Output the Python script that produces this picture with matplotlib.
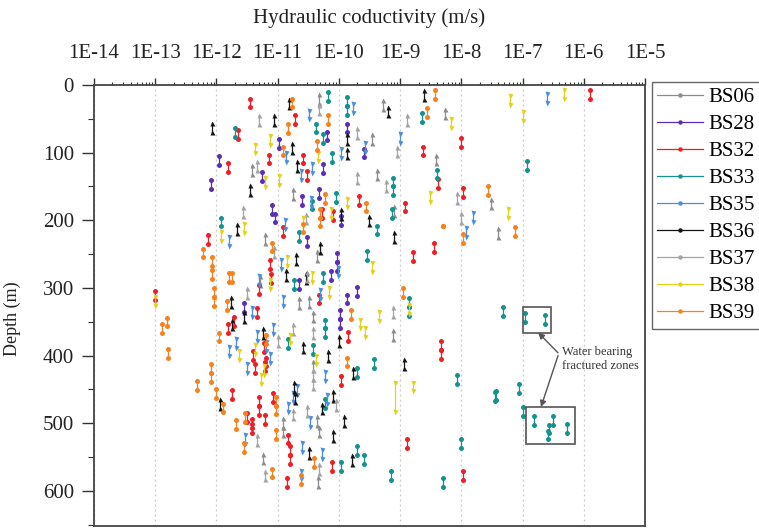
import matplotlib
matplotlib.use('Agg')
import matplotlib.pyplot as plt
from matplotlib.patches import Rectangle
from matplotlib.lines import Line2D
from matplotlib.ticker import MultipleLocator, NullFormatter, LogLocator

plt.rcParams['font.family'] = ['Liberation Serif', 'DejaVu Serif']

# packer test sections: (top depth in m, hydraulic conductivity in m/s[, base depth in m])
# sections without a base use the standard section length below
section = 13

bs06 = [(13, 4.7e-11), (119, 3.8e-12), (154, 1.8e-11), (220, 6.3e-12), (22, 5.3e-10),
        (35, 5.5e-9), (73, 3.5e-10), (103, 3.9e-9), (125, 4.2e-10), (179, 7.9e-10),
        (168, 3.0e-8), (211, 3.9e-8), (245, 4.4e-11), (315, 2.2e-11), (313, 3.3e-11),
        (408, 3.8e-11), (490, 4.4e-11), (493, 1.2e-11), (362, 7.6e-10), (580, 4.6e-11),
        (545, 5.8e-12), (505, 1.2e-11), (505, 4.7e-11), (335, 3.8e-11), (283, 5.2e-12)]

bs28 = [(80, 1.05e-11), (105, 1.1e-12), (141, 8.0e-13), (129, 5.6e-12), (154, 4.7e-11),
        (164, 2.5e-11), (177, 8.2e-12), (190, 9.2e-12), (225, 3.0e-11), (57, 1.35e-10),
        (94, 2.6e-10), (69, 6.3e-11), (117, 5.5e-11), (194, 1.1e-10), (249, 9.4e-11),
        (262, 9.4e-11), (322, 2.8e-12), (288, 2.2e-11), (310, 1.35e-10), (299, 2.0e-10),
        (333, 1.05e-10), (346, 1.05e-10), (275, 7.5e-11)]

bs32 = [(20, 3.5e-12), (67, 2.25e-12), (44, 1.9e-11), (115, 1.55e-12), (103, 7.2e-12),
        (103, 2.6e-11), (210, 1.2e-11), (222, 7.3e-13), (259, 7.4e-12), (183, 5.3e-11),
        (91, 2.4e-9), (79, 1.0e-8), (139, 4.2e-9), (164, 2.1e-10), (174, 1.2e-9),
        (152, 1.05e-8), (234, 3.6e-9), (247, 1.6e-9), (127, 3.0e-11), (186, 8.0e-11),
        (8, 1.27e-6), (305, 1.0e-13), (343, 1.9e-12), (354, 1.55e-12), (296, 5.0e-12),
        (330, 4.6e-12), (451, 1.8e-12), (403, 6.5e-12), (413, 4.3e-12), (461, 5.0e-12),
        (455, 8.4e-12), (485, 3.2e-12), (494, 3.8e-12), (310, 4.7e-11), (365, 1.4e-10),
        (379, 4.7e-9), (392, 4.7e-9), (430, 1.1e-10), (523, 1.3e-9), (571, 1.07e-8),
        (558, 7.7e-11), (581, 1.4e-11), (534, 1.6e-11), (547, 1.6e-11), (517, 1.5e-11),
        (501, 3.8e-12), (488, 6.2e-12), (475, 5.0e-12), (280, 7.7e-12), (382, 6.0e-12),
        (393, 3.9e-12), (410, 6.2e-12)]

bs33 = [(10, 6.6e-11), (64, 2.0e-12), (101, 7.7e-11), (196, 1.2e-12), (218, 2.2e-11),
        (57, 4.3e-11), (18, 1.35e-10), (31, 1.35e-10), (42, 2.3e-9), (125, 4.0e-9),
        (137, 7.7e-10), (150, 7.7e-10), (208, 4.2e-10), (245, 2.9e-10), (73, 5.5e-11),
        (160, 9.0e-11), (171, 3.6e-11), (113, 1.2e-7), (183, 7.5e-10), (376, 1.5e-11),
        (347, 6.0e-11), (360, 6.0e-11), (384, 3.8e-11), (464, 5.9e-11), (288, 1.85e-11),
        (315, 1.4e-9), (328, 1.4e-9), (418, 2.0e-10), (405, 3.8e-10), (429, 8.5e-9),
        (453, 3.7e-8), (523, 1.0e-8), (581, 5.0e-9), (571, 7.2e-10), (534, 2.0e-10),
        (547, 2.6e-10), (558, 1.1e-10), (278, 5.4e-11), (328, 4.8e-8), (337, 1.1e-7),
        (340, 2.3e-7), (454, 3.5e-8), (442, 8.8e-8), (476, 1.0e-7), (489, 1.55e-7),
        (489, 3.2e-7), (502, 2.7e-7), (511, 2.6e-7), (501, 5.3e-7)]

bs35 = [(38, 3.3e-11), (101, 1.35e-11), (127, 2.4e-11), (167, 3.5e-11), (225, 1.6e-12),
        (259, 1.15e-11), (28, 1.7e-10), (86, 2.7e-10), (95, 1.1e-10), (73, 1.0e-9),
        (189, 1.55e-8), (212, 1.2e-8), (14, 2.5e-7), (117, 3.6e-11), (200, 1.3e-11),
        (283, 5.0e-12), (330, 3.8e-12), (376, 2.1e-12), (388, 1.6e-12), (365, 4.6e-12),
        (380, 6.5e-12), (355, 8.4e-12), (398, 7.5e-12), (413, 3.2e-12), (313, 1.2e-11),
        (445, 2.1e-11), (471, 1.5e-11), (425, 6.0e-11), (458, 6.5e-11), (518, 2.9e-12),
        (570, 2.4e-11), (530, 2.5e-11), (455, 1.8e-11), (492, 3.4e-11), (303, 4.9e-11),
        (270, 9.5e-11), (540, 5.2e-11)]

bs36 = [(20, 1.55e-11), (56, 8.5e-13), (44, 8.7e-12), (148, 3.5e-12), (206, 2.2e-12),
        (86, 1.7e-11), (8, 2.5e-9), (32, 6.4e-10), (73, 1.35e-10), (94, 1.35e-10),
        (113, 2.1e-11), (193, 3.1e-10), (218, 8.0e-10), (183, 1.1e-10), (234, 4.9e-11),
        (250, 2.0e-11), (313, 1.7e-12), (347, 1.8e-12), (336, 2.8e-12), (359, 5.8e-12),
        (464, 1.15e-12), (381, 2.6e-11), (394, 6.7e-11), (439, 1.85e-11), (278, 2.9e-11),
        (371, 1.0e-10), (405, 1.15e-9), (418, 1.7e-10), (489, 1.2e-10), (452, 8.0e-11),
        (512, 8.0e-11), (547, 1.65e-10), (537, 3.2e-11), (455, 1.9e-11), (471, 5.3e-11),
        (274, 1.35e-11)]

bs37 = [(44, 4.9e-12), (29, 4.8e-11), (113, 4.6e-12), (180, 2.7e-12), (240, 8.6e-12),
        (44, 1.3e-9), (64, 2.0e-10), (91, 8.8e-10), (130, 2.0e-10), (142, 5.8e-10),
        (160, 8.6e-9), (189, 9.8e-9), (190, 2.9e-11), (300, 3.2e-12), (371, 1.0e-11),
        (359, 3.8e-11), (421, 3.8e-11), (435, 3.8e-11), (480, 1.8e-11), (328, 7.6e-10),
        (466, 9.0e-11), (570, 6.3e-12), (518, 4.6e-12), (475, 3.0e-11), (276, 3.0e-11),
        (354, 1.8e-11), (560, 4.8e-11)]

bs38 = [(88, 4.2e-12), (76, 7.5e-12), (100, 4.6e-11), (138, 6.3e-12), (135, 1.05e-11),
        (206, 2.8e-12), (218, 1.2e-12), (255, 1.4e-11), (183, 7.3e-11), (51, 6.9e-9),
        (168, 1.35e-10), (160, 3.1e-9), (263, 3.5e-10), (16, 6.3e-8), (40, 1.0e-7),
        (8, 4.8e-7), (183, 5.7e-8), (313, 1.0e-13), (393, 2.3e-12), (384, 4.2e-12),
        (288, 7.5e-12), (416, 6.0e-12), (429, 5.3e-12), (369, 1.6e-11), (278, 3.6e-11),
        (300, 7.0e-11), (400, 4.2e-11), (196, 2.6e-11), (347, 2.2e-10), (359, 2.7e-10),
        (336, 4.5e-10), (325, 1.4e-9), (440, 8.2e-10, 483), (440, 1.6e-9)]

bs39 = [(20, 1.7e-11), (58, 1.5e-11), (45, 6.6e-11), (83, 4.4e-11), (161, 6.0e-11),
        (242, 6.0e-13), (255, 8.5e-13), (205, 2.6e-11), (233, 8.1e-12), (91, 1.2e-11),
        (183, 5.0e-11), (196, 5.0e-11), (34, 2.7e-9), (8, 3.7e-9), (174, 2.8e-10),
        (149, 2.75e-8), (209, 5.0e-9, 209), (220, 1.07e-8), (210, 7.6e-8), (274, 8.5e-13),
        (300, 9.0e-13), (313, 9.0e-13), (344, 1.55e-13), (354, 1.3e-13), (391, 1.6e-13),
        (438, 4.8e-13), (413, 8.0e-13), (426, 8.0e-13), (366, 1.1e-12), (278, 1.6e-12),
        (278, 1.8e-12), (320, 1.5e-12), (471, 1.3e-12), (450, 1.0e-12), (496, 2.1e-12),
        (461, 9.5e-12), (474, 9.5e-12), (300, 1.1e-9), (333, 1.6e-10), (403, 1.35e-10),
        (577, 2.4e-11), (567, 8.1e-12), (530, 2.8e-12), (552, 3.9e-11), (510, 9.4e-12),
        (485, 2.9e-12), (370, 6.5e-12)]

boreholes = ['BS06', 'BS28', 'BS32', 'BS33', 'BS35', 'BS36', 'BS37', 'BS38', 'BS39']
tests = [bs06, bs28, bs32, bs33, bs35, bs36, bs37, bs38, bs39]
colors = ['#8c8c8c', '#5a2fb5', '#ec1f26', '#14938e', '#4b8fdc', '#151515', '#a3a3a3',
          '#e3d21c', '#f5821f']
markers = ['^', 'o', 'o', 'o', 'v', '^', '^', 'v', 'o']

k_ticks = [1e-14, 1e-13, 1e-12, 1e-11, 1e-10, 1e-9, 1e-8, 1e-7, 1e-6, 1e-5]
k_labels = ['1E-14', '1E-13', '1E-12', '1E-11', '1E-10', '1E-9', '1E-8', '1E-7', '1E-6', '1E-5']
depth_ticks = [0, 100, 200, 300, 400, 500, 600]

fig = plt.figure(figsize=(7.59, 5.29), dpi=100)
ax = fig.add_axes([94 / 759, 3 / 529, 551 / 759, 441 / 529])

for name, rows, c, m in zip(boreholes, tests, colors, markers):
    xs, ys = [], []
    for r in rows:
        top, k = r[0], r[1]
        base = r[2] if len(r) > 2 else top + section
        xs += [k, k, float('nan')]
        ys += [top, base, float('nan')]
    ax.plot(xs, ys, color=c, lw=0.9, marker=m, ms=3.6, mec='none', label=name)

ax.set_xscale('log')
ax.set_xlim(1e-14, 1e-5)
ax.set_ylim(652, 0)

ax.xaxis.tick_top()
ax.xaxis.set_label_position('top')
ax.set_xticks(k_ticks)
ax.set_xticklabels(k_labels)
ax.xaxis.set_minor_locator(LogLocator(base=10, subs=range(2, 10), numticks=20))
ax.xaxis.set_minor_formatter(NullFormatter())
ax.set_yticks(depth_ticks)
ax.yaxis.set_minor_locator(MultipleLocator(50))

ax.tick_params(axis='x', which='major', direction='out', length=5, width=1, pad=11,
               labelsize=15, colors='#333333', labelcolor='#222222')
ax.tick_params(axis='x', which='minor', direction='out', length=2.5, width=0.8,
               colors='#333333')
ax.tick_params(axis='y', which='major', direction='out', length=8.5, width=1, pad=6,
               labelsize=15, colors='#333333', labelcolor='#222222')
ax.tick_params(axis='y', which='minor', direction='out', length=4.5, width=0.8,
               colors='#333333')
for s in ax.spines.values():
    s.set_color('#444444')
    s.set_linewidth(1.3)

ax.grid(axis='x', which='major', color='#c8c8c8', linestyle=(0, (1.5, 2.5)), lw=0.9)
ax.set_axisbelow(True)

ax.set_xlabel('Hydraulic coductivity (m/s)', fontsize=15, labelpad=15, color='#222222')
ax.set_ylabel('Depth (m)', fontsize=13, color='#222222')
ax.yaxis.set_label_coords(-0.133, 0.47)

# fractured zones
box_kw = dict(fill=False, edgecolor='#555555', lw=1.2, zorder=3)
ax.add_patch(Rectangle((1.02e-7, 328), 2.9e-7 - 1.02e-7, 38, **box_kw))
ax.add_patch(Rectangle((1.15e-7, 476), 7.2e-7 - 1.15e-7, 55, **box_kw))
ax.text(4.4e-7, 405, 'Water bearing\nfractured zones', fontsize=9, color='#333333',
        ha='left', va='center', linespacing=1.2)
arrow_kw = dict(arrowstyle='-|>', color='#555555', lw=1, mutation_scale=9,
                shrinkA=0, shrinkB=0)
ax.annotate('', xy=(1.8e-7, 366), xytext=(3.8e-7, 396), arrowprops=arrow_kw)
ax.annotate('', xy=(2.0e-7, 476), xytext=(3.8e-7, 400), arrowprops=arrow_kw)

handles = [Line2D([], [], color=c, lw=0.9, marker='o', ms=3.2, mec='none')
           for c in colors]
leg = fig.legend(handles, boreholes, loc='upper left',
                 bbox_to_anchor=(652 / 759, 1 - 82 / 529), frameon=True, fancybox=False,
                 edgecolor='#666666', framealpha=1, fontsize=15, numpoints=1,
                 handlelength=2.2, handletextpad=0.25, labelspacing=0.36,
                 borderpad=0.25, borderaxespad=0)
leg.get_frame().set_linewidth(1)

fig.savefig('out.png', dpi=100)
